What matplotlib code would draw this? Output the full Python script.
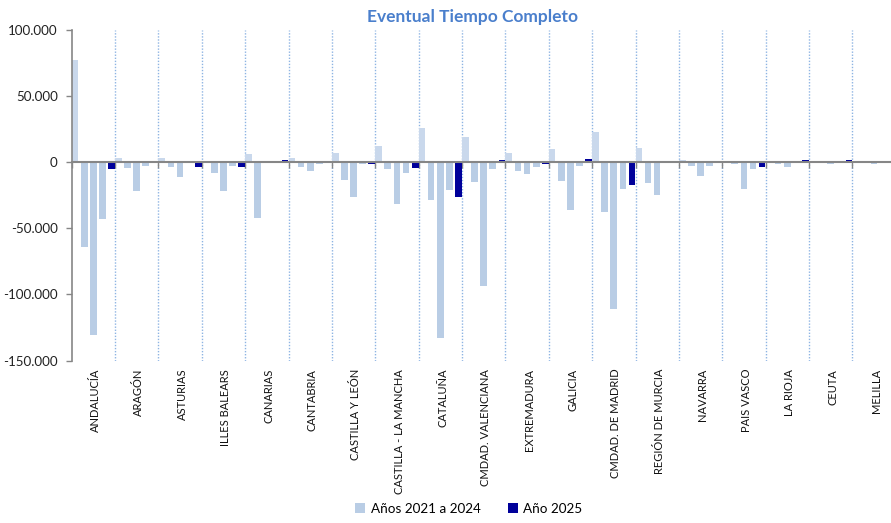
import matplotlib
matplotlib.use("Agg")
import matplotlib.pyplot as plt
import matplotlib.transforms as mtransforms
from matplotlib.patches import Patch
import numpy as np

plt.rcParams['font.family'] = ['Lato', 'DejaVu Sans']

regions = ["ANDALUCÍA", "ARAGÓN", "ASTURIAS", "ILLES BALEARS", "CANARIAS", "CANTABRIA",
           "CASTILLA Y LEÓN", "CASTILLA - LA MANCHA", "CATALUÑA", "CMDAD. VALENCIANA",
           "EXTREMADURA", "GALICIA", "CMDAD. DE MADRID", "REGIÓN DE MURCIA", "NAVARRA",
           "PAIS VASCO", "LA RIOJA", "CEUTA", "MELILLA"]

y2021 = [77000, 3300, 3300, -500, 6300, 3300, 7000, 12100, 25700, 18900,
         7000, 10100, 22700, 11100, 1500, 1000, 700, 700, 700]
y2022 = [-64500, -4300, -4000, -8300, -42100, -3300, -13300, -5300, -28500, -15100,
         -6300, -14100, -37300, -15900, -2500, -1500, -1500, -300, -300]
y2023 = [-130500, -21700, -11000, -21700, -400, -6300, -26700, -31500, -133300, -93500,
         -9300, -36300, -110900, -24700, -10600, -19900, -3300, -1000, -1000]
y2024 = [-43000, -2500, -400, -2500, -300, -1500, -1500, -8300, -20900, -5300,
         -3300, -2500, -19900, -300, -2500, -5300, -300, -300, -300]
y2025 = [-5300, -400, -3300, -3300, 1500, -300, -1500, -4300, -26700, 1500,
         -1500, 2500, -16900, -300, 500, -3300, 1500, 1500, -300]

yticks = [100000, 50000, 0, -50000, -100000, -150000]
ytick_labels = ["100.000", "50.000", "0", "-50.000", "-100.000", "-150.000"]

title = "Eventual Tiempo Completo"
legend_labels = ["Años 2021 a 2024", "Año 2025"]

c_pos = "#C9D8EC"
c_neg = "#B9CDE5"
c_dark = "#00009A"

fig = plt.figure(figsize=(8.91, 5.23), dpi=100)
ax = fig.add_axes([71.7 / 891, 1 - 360.5 / 523, 19 * 43.37 / 891, (360.5 - 30) / 523])

n = len(regions)
x = np.arange(n)
period = 0.2108
width = 0.154
light_series = [y2021, y2022, y2023, y2024]
for i, s in enumerate(light_series):
    vals = np.array(s)
    cols = [c_pos if v >= 0 else c_neg for v in vals]
    ax.bar(x + i * period, vals, width=width, align='edge', color=cols, zorder=2)
ax.bar(x + 4 * period, y2025, width=width, align='edge', color=c_dark, zorder=3)

for k in range(1, n):
    ax.axvline(k, color="#8EB4E3", linestyle=(0, (1, 1.2)), linewidth=1.0, zorder=1)

ax.set_xlim(0, n)
ax.set_ylim(-150000, 100000)
ax.set_yticks(yticks)
ax.set_yticklabels(ytick_labels, fontsize=9.6, color="#222222")
ax.tick_params(axis='y', direction='out', length=4, width=1, color="#868686", pad=6)

ax.spines['top'].set_visible(False)
ax.spines['right'].set_visible(False)
ax.spines['left'].set_color("#868686")
ax.spines['left'].set_linewidth(1.2)
ax.spines['bottom'].set_position(('data', 0))
ax.spines['bottom'].set_color("#868686")
ax.spines['bottom'].set_linewidth(1.5)
ax.spines['bottom'].set_zorder(4)
ax.set_xticks(np.arange(0, n + 1))
ax.set_xticklabels([])
ax.tick_params(axis='x', direction='out', length=4, width=1, color="#868686")

trans = mtransforms.blended_transform_factory(ax.transData, ax.transAxes)
for k, name in enumerate(regions):
    ax.text(k + 0.55, -0.025, name, rotation=90, ha='center', va='top',
            fontsize=8, color="#111111", transform=trans)

fig.text(0.53, 0.968, title, ha='center', va='center', fontsize=12.5,
         fontweight='bold', color="#4A7FCC")

handles = [Patch(facecolor=c_neg, edgecolor='none'), Patch(facecolor=c_dark, edgecolor='none')]
fig.legend(handles, legend_labels, loc='center', bbox_to_anchor=(0.526, 0.027), ncol=2,
           frameon=False, fontsize=9.7, handlelength=0.75, handleheight=0.75,
           handletextpad=0.4, columnspacing=2.0)

fig.savefig("out.png", dpi=100, facecolor="white")
